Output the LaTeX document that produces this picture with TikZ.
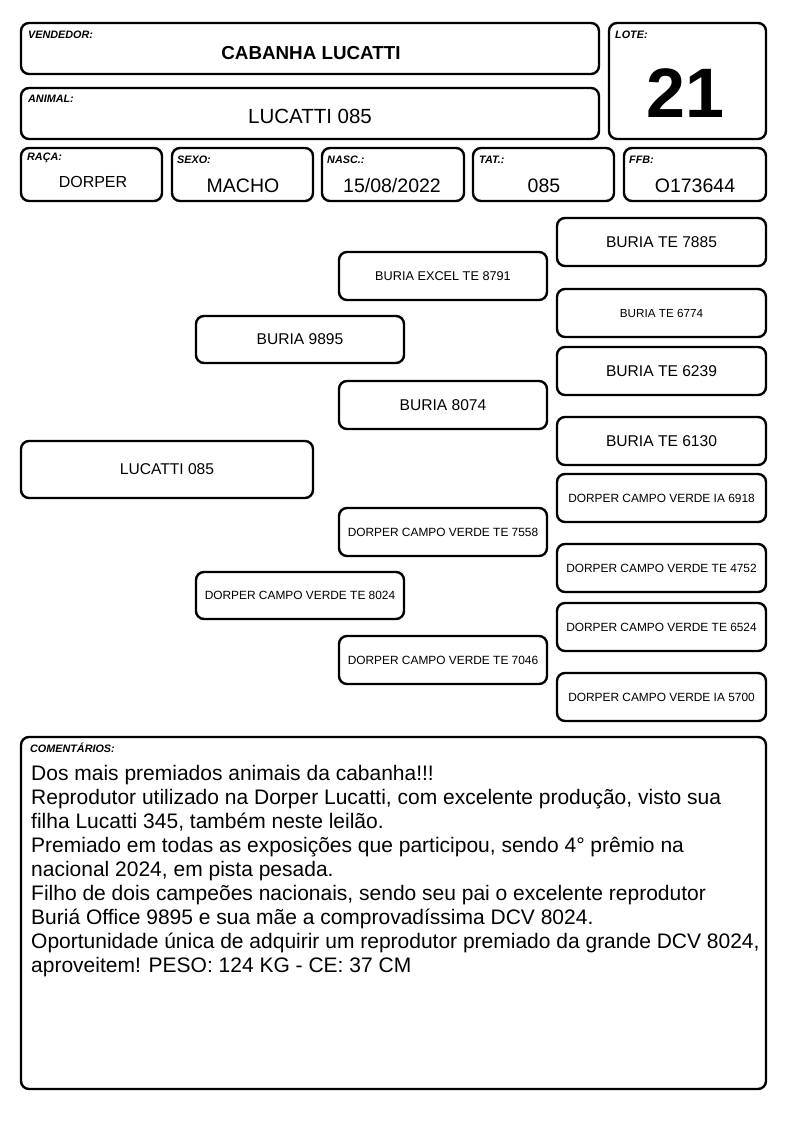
\documentclass[tikz,border=0pt]{standalone}
\usepackage{fontspec}
\setmainfont{Liberation Sans}
\begin{document}
\begin{tikzpicture}[x=1pt,y=-1pt,
  box/.style={draw=black, line width=2.4pt, rounded corners=8pt, inner sep=0pt, outer sep=0pt},
  lbl/.style={anchor=west, inner sep=0pt, font=\fontsize{10.8}{12}\selectfont\bfseries\itshape},
  val/.style={inner sep=0pt, font=\fontsize{19.5}{22}\selectfont},
  ped/.style={inner sep=0pt, font=\fontsize{15.6}{17}\selectfont},
  peds/.style={inner sep=0pt, font=\fontsize{11.9}{13}\selectfont}]
\useasboundingbox (0,0) rectangle (794,1123);
\fill[white] (0,0) rectangle (794,1123);
% header boxes
\draw[box] (21,23) rectangle (599,74) node[pos=0] (vbox) {};
\draw[box] (21,88) rectangle (599,139) node[pos=0] (abox) {};
\draw[box] (609,23) rectangle (766,139) node[pos=0] (lbox) {};
\draw[box] (21,148) rectangle (162,201) node[pos=0] (rbox) {};
\draw[box] (172,148) rectangle (313,201) node[pos=0] (sbox) {};
\draw[box] (322,148) rectangle (464,201) node[pos=0] (nbox) {};
\draw[box] (473,148) rectangle (614,201) node[pos=0] (tbox) {};
\draw[box] (624,148) rectangle (766,201) node[pos=0] (fbox) {};
\node[lbl] (vl) at (28,35) {VENDEDOR:};
\node[lbl] (al) at (28,99) {ANIMAL:};
\node[lbl] (ll) at (615,35) {LOTE:};
\node[lbl] (rl) at (27,158) {RAÇA:};
\node[lbl] (sl) at (177,160) {SEXO:};
\node[lbl] (nl) at (327,160) {NASC.:};
\node[lbl] (tl) at (479,160) {TAT.:};
\node[lbl] (fl) at (629,160) {FFB:};
\node[val, font=\fontsize{18.8}{20}\selectfont\bfseries] (vv) at (311,53) {CABANHA LUCATTI};
\node[val, font=\fontsize{20.5}{22}\selectfont] (av) at (310,116) {LUCATTI 085};
\node[inner sep=0pt, font=\fontsize{70}{80}\selectfont\bfseries] (lv) at (685,93) {21};
\node[val, font=\fontsize{16}{20}\selectfont] (rv) at (93,182) {DORPER};
\node[val] (sv) at (243,186) {MACHO};
\node[val] (nv) at (392,186) {15/08/2022};
\node[val] (tv) at (544,186) {085};
\node[val] (fv) at (695,186) {O173644};
% pedigree
\node[box, minimum width=292pt, minimum height=57pt, ped] (p0) at (167,469.5) {LUCATTI 085};
\node[box, minimum width=208pt, minimum height=47pt, ped] (p1) at (300,339.5) {BURIA 9895};
\node[box, minimum width=208pt, minimum height=47pt, peds] (p2) at (300,595.5) {DORPER CAMPO VERDE TE 8024};
\node[box, minimum width=208pt, minimum height=48pt, font=\fontsize{12.7}{14}\selectfont] (p3) at (443,276) {BURIA EXCEL TE 8791};
\node[box, minimum width=208pt, minimum height=48pt, ped] (p4) at (443,405) {BURIA 8074};
\node[box, minimum width=208pt, minimum height=48pt, peds] (p5) at (443,532) {DORPER CAMPO VERDE TE 7558};
\node[box, minimum width=208pt, minimum height=48pt, peds] (p6) at (443,660) {DORPER CAMPO VERDE TE 7046};
\node[box, minimum width=209pt, minimum height=48pt, ped] (p7) at (661.5,242) {BURIA TE 7885};
\node[box, minimum width=209pt, minimum height=48pt, font=\fontsize{11.7}{13}\selectfont] (p8) at (661.5,313) {BURIA TE 6774};
\node[box, minimum width=209pt, minimum height=48pt, ped] (p9) at (661.5,371) {BURIA TE 6239};
\node[box, minimum width=209pt, minimum height=48pt, ped] (p10) at (661.5,441) {BURIA TE 6130};
\node[box, minimum width=209pt, minimum height=48pt, peds] (p11) at (661.5,498) {DORPER CAMPO VERDE IA 6918};
\node[box, minimum width=209pt, minimum height=48pt, peds] (p12) at (661.5,568) {DORPER CAMPO VERDE TE 4752};
\node[box, minimum width=209pt, minimum height=48pt, peds] (p13) at (661.5,627) {DORPER CAMPO VERDE TE 6524};
\node[box, minimum width=209pt, minimum height=48pt, peds] (p14) at (661.5,697) {DORPER CAMPO VERDE IA 5700};
% comments
\draw[box] (21,737) rectangle (766,1089) node[pos=0] (cbox) {};
\node[lbl] (cl) at (30,748) {COMENTÁRIOS:};
\node[anchor=north west, inner sep=0pt, align=left, font=\fontsize{21}{24}\selectfont] (ct) at (31,765)
{Dos mais premiados animais da cabanha!!!\\
Reprodutor utilizado na Dorper Lucatti, com excelente produção, visto sua\\
filha Lucatti 345, também neste leilão.\\
Premiado em todas as exposições que participou, sendo 4° prêmio na\\
nacional 2024, em pista pesada.\\
Filho de dois campeões nacionais, sendo seu pai o excelente reprodutor\\
Buriá Office 9895 e sua mãe a comprovadíssima DCV 8024.\\
Oportunidade única de adquirir um reprodutor premiado da grande DCV 8024,\\
aproveitem! PESO: 124 KG - CE: 37 CM};
\end{tikzpicture}
\end{document}
